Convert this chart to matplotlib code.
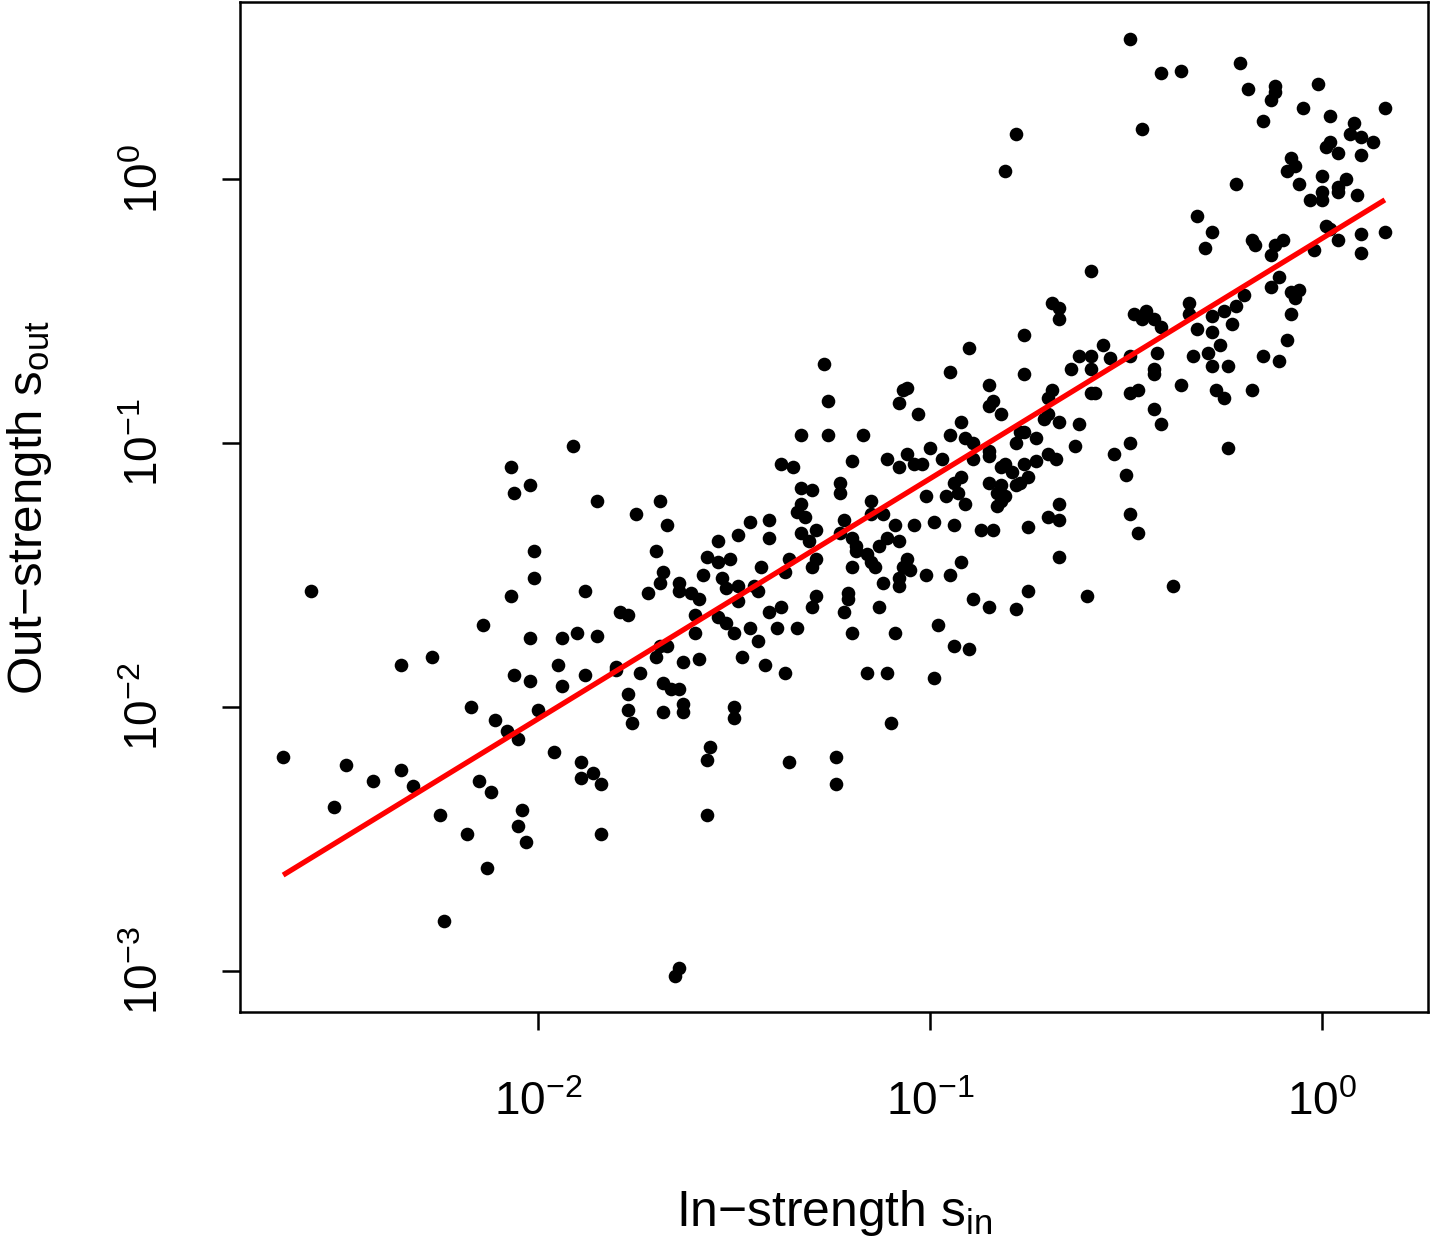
"""Out-strength vs in-strength scatter on log-log axes with a fitted power law."""

import numpy as np
import matplotlib
matplotlib.use("Agg")
import matplotlib.pyplot as plt

plt.rcParams["font.family"] = ["Liberation Sans", "DejaVu Sans"]
plt.rcParams["mathtext.fontset"] = "custom"
plt.rcParams["mathtext.rm"] = "Liberation Sans"
plt.rcParams["mathtext.it"] = "Liberation Sans"
plt.rcParams["mathtext.default"] = "regular"

# log10 of in-strength / out-strength for each node
log_s_in = np.array([
    -2.65, -2.58, -2.52, -2.49, -2.42, -2.35, -2.35, -2.32, -2.27, -2.25,
    -2.24, -2.18, -2.17, -2.15, -2.14, -2.13, -2.12, -2.11, -2.08, -2.07,
    -2.07, -2.06, -2.06, -2.05, -2.05, -2.04, -2.03, -2.02, -2.02, -2.02,
    -2.01, -2.01, -2.00,
    -1.96, -1.95, -1.94, -1.94, -1.91, -1.90, -1.89, -1.89, -1.88, -1.88,
    -1.86, -1.85, -1.85, -1.84, -1.84, -1.80, -1.80, -1.79, -1.77, -1.77,
    -1.77, -1.76, -1.75, -1.74, -1.72, -1.70, -1.70, -1.69, -1.69, -1.69,
    -1.68, -1.68, -1.68, -1.67, -1.67, -1.66, -1.65, -1.64, -1.64, -1.64,
    -1.64, -1.63, -1.63, -1.63, -1.61, -1.60, -1.60, -1.59, -1.59, -1.58,
    -1.57, -1.57, -1.57, -1.56, -1.54, -1.54, -1.54, -1.53, -1.52, -1.52,
    -1.51, -1.50, -1.50, -1.50, -1.49, -1.49, -1.49, -1.48, -1.46, -1.46,
    -1.45, -1.44, -1.44, -1.43, -1.42, -1.41, -1.41, -1.41, -1.39,
    -1.38, -1.38, -1.37, -1.37, -1.36, -1.36, -1.35, -1.34, -1.34, -1.33,
    -1.33, -1.33, -1.33, -1.32, -1.31, -1.30, -1.30, -1.30, -1.29, -1.29,
    -1.29, -1.27, -1.26, -1.26, -1.24, -1.24, -1.23, -1.23, -1.23, -1.22,
    -1.22, -1.21, -1.21, -1.20, -1.20, -1.20, -1.20, -1.19, -1.19, -1.17,
    -1.16, -1.16, -1.15, -1.15, -1.15, -1.14, -1.13, -1.13, -1.12, -1.12,
    -1.11, -1.11, -1.11, -1.10, -1.09, -1.09, -1.08, -1.08, -1.08, -1.08,
    -1.08, -1.07, -1.07, -1.06, -1.06, -1.06, -1.05, -1.04, -1.04, -1.03,
    -1.02, -1.01, -1.01, -1.00, -0.99, -0.99, -0.98, -0.97, -0.96, -0.95,
    -0.95, -0.95, -0.94, -0.94, -0.94, -0.93, -0.92, -0.92, -0.92, -0.91,
    -0.91, -0.90, -0.90, -0.89, -0.89, -0.89, -0.87, -0.85, -0.85, -0.85,
    -0.85, -0.85, -0.85, -0.84, -0.84, -0.83, -0.83, -0.82, -0.82, -0.82,
    -0.82, -0.81, -0.81, -0.81, -0.79, -0.78, -0.78, -0.78, -0.78, -0.77,
    -0.77, -0.76, -0.76, -0.76, -0.76, -0.75, -0.75, -0.75, -0.73, -0.73,
    -0.71, -0.70, -0.70, -0.70, -0.70, -0.69, -0.69, -0.68, -0.67, -0.67,
    -0.67, -0.67, -0.67, -0.67, -0.64, -0.63, -0.62, -0.62, -0.60, -0.59,
    -0.59, -0.59, -0.59, -0.58, -0.56, -0.54, -0.53, -0.50, -0.49, -0.49,
    -0.49, -0.49, -0.49, -0.48, -0.47, -0.47, -0.46, -0.46, -0.45,
    -0.41, -0.36, -0.21, -0.19, -0.12, -0.12, -0.13, -0.01, -0.05, 0.16,
    0.02, -0.15, 0.08, 0.07, 0.10, 0.13, 0.01, 0.02, 0.04, 0.10,
    -0.08, -0.07, -0.09, -0.06, -0.22, 0.00, 0.06, 0.04, 0.04, 0.00,
    0.00, -0.03, 0.09, -0.32, -0.28, 0.01, 0.02, 0.10, 0.16, -0.30,
    -0.18, -0.17, -0.12, -0.10, -0.13, -0.02, 0.04, 0.10, -0.11, -0.13,
    -0.20, -0.08, -0.06, -0.07, -0.34, -0.34, -0.25, -0.22, -0.28, -0.43,
    -0.41, -0.23, -0.32, -0.28, -0.08, -0.26, -0.29, -0.42, -0.33, -0.15,
    -0.11, -0.09, -0.28, -0.24, -0.43, -0.43, -0.36, -0.27, -0.25, -0.18,
    -0.43, -0.41, -0.24, -0.38,
])

log_s_out = np.array([
    -2.19, -1.56, -2.38, -2.22, -2.28, -1.84, -2.24, -2.30, -1.81, -2.41,
    -2.81, -2.48, -2.00, -2.28, -1.69, -2.61, -2.32, -2.05, -2.09, -1.09,
    -1.58, -1.88, -1.19, -2.12, -2.45, -2.39, -2.51, -1.74, -1.16, -1.90,
    -1.51, -1.41, -2.01,
    -2.17, -1.84, -1.74, -1.92, -1.01, -1.72, -2.27, -2.21, -1.88, -1.56,
    -2.25, -1.73, -1.22, -2.48, -2.29, -1.86, -1.85, -1.64, -1.65, -2.01,
    -1.95, -2.06, -1.27, -1.87, -1.57, -1.41, -1.81, -1.77, -1.22, -1.53,
    -1.91, -1.49, -2.02, -1.77, -1.31, -1.93, -3.02, -2.99, -1.56, -1.53,
    -1.93, -2.02, -1.83, -1.99, -1.57, -1.72, -1.65, -1.82, -1.59, -1.50,
    -2.20, -2.41, -1.43, -2.15, -1.45, -1.37, -1.66, -1.51, -1.55, -1.68,
    -1.44, -1.72, -2.00, -2.04, -1.54, -1.60, -1.35, -1.81, -1.30, -1.70,
    -1.54, -1.56, -1.75, -1.47, -1.84, -1.36, -1.64, -1.29, -1.70,
    -1.08, -1.62, -1.49, -1.87, -2.21, -1.44, -1.09, -1.26, -1.70, -1.17,
    -1.34, -1.23, -0.97, -1.28, -1.37, -1.47, -1.18, -1.62, -1.58, -1.33,
    -1.44, -0.70, -0.84, -0.97, -2.19, -2.29, -1.15, -1.19, -1.34, -1.29,
    -1.64, -1.57, -1.59, -1.07, -1.36, -1.47, -1.72, -1.39, -1.41, -0.97,
    -1.42, -1.87, -1.45, -1.22, -1.27, -1.47, -1.39, -1.62, -1.53, -1.27,
    -1.06, -1.87, -1.36, -2.06, -1.72, -1.31, -1.37, -1.54, -1.09, -0.85,
    -1.51, -0.80, -1.47, -0.79, -1.44, -1.04, -1.48, -1.08, -1.31, -0.89,
    -1.08, -1.20, -1.50, -1.02, -1.30, -1.89, -1.69, -1.06, -1.20, -0.97,
    -0.73, -1.50, -1.15, -1.31, -1.77, -1.19, -0.92, -1.13, -1.45, -1.23,
    -0.98, -1.78, -0.64, -1.06, -1.00, -1.59, -1.33, -0.78, -1.05, -1.62,
    -1.03, -1.15, -0.86, -0.84, -1.33, -1.19, -1.24, -1.16, -1.09, -0.89,
    -1.22, -1.08, 0.03, -1.20, -1.11, -1.16, 0.17, -1.00, -1.63, -0.96,
    -1.15, -0.59, -0.96, -1.08, -0.74, -1.13, -1.32, -1.56, -0.98, -1.07,
    -0.91, -0.83, -1.04, -1.28, -0.89, -0.80, -0.47, -1.06, -0.92, -1.29,
    -0.53, -0.49, -1.23, -1.43, -0.72, -1.01, -0.93, -0.67, -1.58, -0.35,
    -0.72, -0.81, -0.67, -0.81, -0.63, -0.68, -1.04, -1.12, -1.27, 0.53,
    -0.67, -0.81, -1.00, -0.51, -1.34, -0.80, 0.19, -0.53, -0.50,
    0.40, 0.41, 0.44, 0.34, 0.35, 0.33, 0.30, 0.36, 0.27, 0.27,
    0.24, 0.22, 0.21, 0.17, 0.16, 0.14, 0.12, 0.14, 0.10, 0.09,
    0.08, 0.05, 0.03, -0.02, -0.02, 0.01, 0.00, -0.03, -0.05, -0.05,
    -0.08, -0.08, -0.06, -0.14, -0.20, -0.18, -0.19, -0.21, -0.20, -0.26,
    -0.23, -0.25, -0.25, -0.23, -0.29, -0.27, -0.23, -0.28, -0.37, -0.41,
    -0.44, -0.43, -0.42, -0.45, -0.47, -0.51, -0.50, -0.48, -0.52, -0.53,
    -0.56, -0.55, -0.57, -0.58, -0.51, -0.63, -0.66, -0.66, -0.67, -0.67,
    -0.69, -0.61, -0.71, -0.71, -0.72, -0.74, -0.78, -0.80, -0.83, -0.80,
    -0.87, -0.93, -1.02, -1.54,
])

# power-law fit in log10 space: log s_out = FIT_A + FIT_B * log s_in
FIT_A = -0.225
FIT_B = 0.91

x_ticks = [1e-2, 1e-1, 1e0]
x_tick_labels = [r"$10^{-2}$", r"$10^{-1}$", r"$10^{0}$"]
y_ticks = [1e-3, 1e-2, 1e-1, 1e0]
y_tick_labels = [r"$10^{-3}$", r"$10^{-2}$", r"$10^{-1}$", r"$10^{0}$"]

s_in = 10 ** log_s_in
s_out = 10 ** log_s_out

fig = plt.figure(figsize=(14.33, 12.41), dpi=100)
ax = fig.add_axes([240 / 1433, 1 - 1012 / 1241, 1188 / 1433, 1010 / 1241])

ax.plot(s_in, s_out, "o", color="black", markersize=9.8, markeredgewidth=0)

fit_x = np.array([s_in.min(), s_in.max()])
fit_y = 10 ** (FIT_A + FIT_B * np.log10(fit_x))
ax.plot(fit_x, fit_y, color="#ff0000", linewidth=3.8, solid_capstyle="butt")

ax.set_xscale("log")
ax.set_yscale("log")
ax.set_xlim(10 ** -2.760, 10 ** 0.270)
ax.set_ylim(10 ** -3.155, 10 ** 0.670)
ax.minorticks_off()

ax.set_xticks(x_ticks, labels=x_tick_labels)
ax.set_yticks(y_ticks, labels=y_tick_labels)
ax.tick_params(axis="both", direction="out", length=13, width=1.8,
               labelsize=33)
ax.tick_params(axis="x", pad=37)
ax.tick_params(axis="y", pad=39)
for lab in ax.get_yticklabels():
    lab.set_rotation(90)
    lab.set_va("center")

for sp in ax.spines.values():
    sp.set_linewidth(1.8)

fig.text(834 / 1433, 1 - 1213 / 1241, "In\u2212strength $s_{in}$",
         ha="center", va="center", fontsize=35.8)
fig.text(30 / 1433, 1 - 508 / 1241, "Out\u2212strength $s_{out}$",
         ha="center", va="center", rotation=90, fontsize=35.5)

fig.savefig("out.png", dpi=100)
plt.close(fig)
